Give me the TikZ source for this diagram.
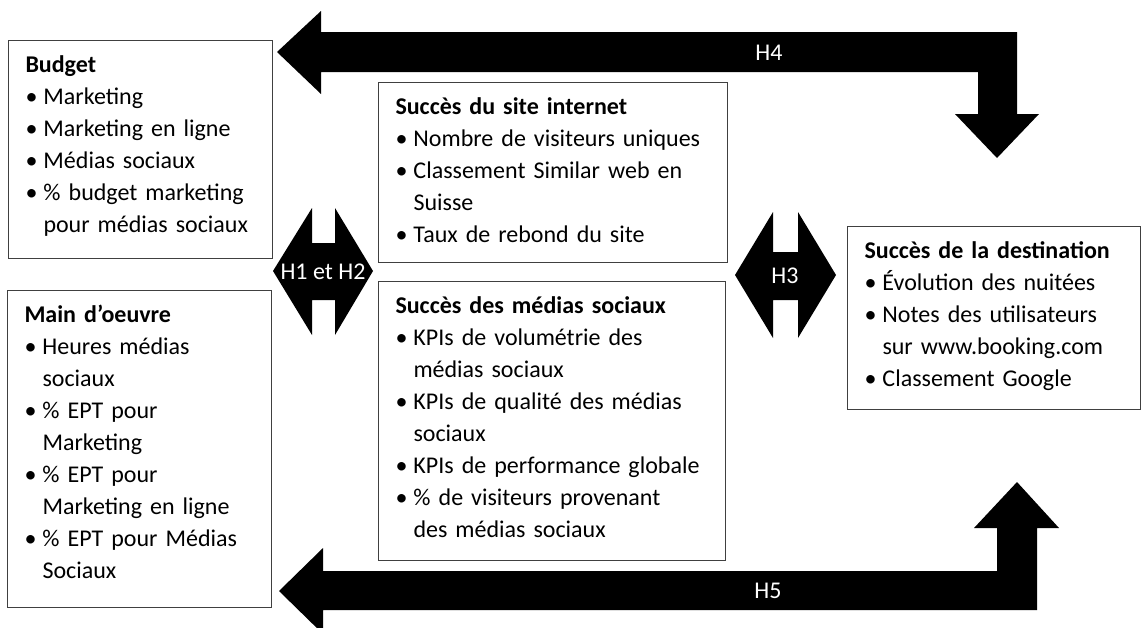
\documentclass[tikz,border=0pt]{standalone}
\usepackage{fontspec}
\setmainfont{Carlito}
\usetikzlibrary{positioning}

\newcommand{\ttl}[1]{\mbox{\bfseries #1}}
\newcommand{\itm}[1]{\mbox{\makebox[18pt][l]{\textbullet}#1}}
\newcommand{\cnt}[1]{\mbox{\hspace*{18pt}#1}}

\begin{document}
\begin{tikzpicture}[
        x=1pt, y=-1pt,
        box/.style={rectangle, draw=black!75, line width=1pt, anchor=north west, align=left, inner xsep=17pt, inner ysep=0pt, text height=32pt, font=\fontsize{24}{32}\selectfont},
        hyp/.style={fill=black, draw=none},
        lbl/.style={text=white, inner sep=0pt, font=\fontsize{24}{30}\selectfont}
    ]
    \useasboundingbox (0,0) rectangle (1148,627);

    \node[box, text width=230pt, text depth=186pt] (budget) at (8,40) {\ttl{Budget}\\
        \itm{Marketing}\\
        \itm{Marketing en ligne}\\
        \itm{Médias sociaux}\\
        \itm{\% budget marketing}\\
        \cnt{pour médias sociaux}};
    \node[box, text width=230pt, text depth=285pt] (main) at (7,290) {\ttl{Main d’oeuvre}\\
        \itm{Heures médias}\\
        \cnt{sociaux}\\
        \itm{\% EPT pour}\\
        \cnt{Marketing}\\
        \itm{\% EPT pour}\\
        \cnt{Marketing en ligne}\\
        \itm{\% EPT pour Médias}\\
        \cnt{Sociaux}};
    \node[box, text width=315pt, text depth=148pt] (site) at (378,82) {\ttl{Succès du site internet}\\
        \itm{Nombre de visiteurs uniques}\\
        \itm{Classement Similar web en}\\
        \cnt{Suisse}\\
        \itm{Taux de rebond du site}};
    \node[box, text width=313pt, text depth=247pt] (social) at (378,281) {\ttl{Succès des médias sociaux}\\
        \itm{KPIs de volumétrie des}\\
        \cnt{médias sociaux}\\
        \itm{KPIs de qualité des médias}\\
        \cnt{sociaux}\\
        \itm{KPIs de performance globale}\\
        \itm{\% de visiteurs provenant}\\
        \cnt{des médias sociaux}};
    \node[box, text width=259pt, text depth=151pt] (dest) at (847,226) {\ttl{Succès de la destination}\\
        \itm{Évolution des nuitées}\\
        \itm{Notes des utilisateurs}\\
        \cnt{sur www.booking.com}\\
        \itm{Classement Google}};

    \fill[hyp] (277,52) -- (321,11) -- (321,32) -- (1017,32) -- (1017,114) -- (1039,114) -- (997,158) -- (955,114) -- (978,114) -- (978,72) -- (321,72) -- (321,94) -- cycle;
    \fill[hyp] (279,591) -- (323,548) -- (323,571) -- (997,571) -- (997,528) -- (974,528) -- (1017,482) -- (1059,528) -- (1037,528) -- (1037,610) -- (323,610) -- (323,634) -- cycle;
    \fill[hyp] (273,271) -- (312,208) -- (312,243) -- (335,243) -- (335,208) -- (373,271) -- (335,335) -- (335,300) -- (312,300) -- (312,335) -- cycle;
    \fill[hyp] (735,275) -- (773,212) -- (773,252) -- (798,252) -- (798,212) -- (836,275) -- (798,338) -- (798,300) -- (773,300) -- (773,338) -- cycle;

    \node[lbl] (h4) at (769,53) {H4};
    \node[lbl] (h5) at (768,591) {H5};
    \node[lbl] (h12) at (323,272) {H1 et H2};
    \node[lbl] (h3) at (785,276) {H3};
\end{tikzpicture}
\end{document}
